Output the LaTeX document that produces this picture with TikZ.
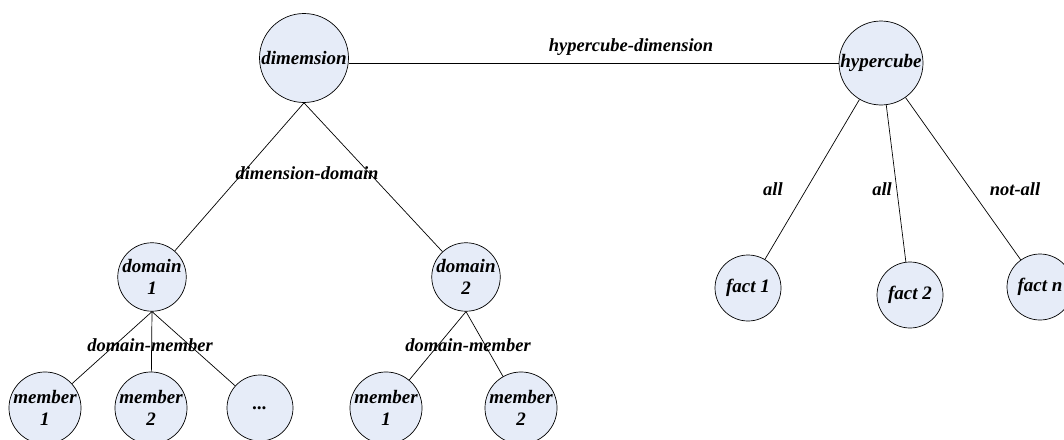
\documentclass[tikz,border=0pt]{standalone}
\usepackage{fontspec}
\setmainfont{Liberation Serif}
\begin{document}
\begin{tikzpicture}[x=1pt,y=-1pt,
  every node/.style={font=\fontsize{19}{21.7}\selectfont\bfseries\itshape},
  ent/.style={circle,draw=black,line width=0.7pt,fill=nodefill,inner sep=0pt,align=center},
  big/.style={ent,minimum size=89pt},
  small/.style={ent,minimum size=66pt},
  lbl/.style={inner sep=0pt,font=\fontsize{18.5}{21}\selectfont\bfseries\itshape},
  conn/.style={draw=black,line width=0.7pt}]
\definecolor{nodefill}{RGB}{230,236,248}
\useasboundingbox (0,0) rectangle (1064,439);
% nodes
\node[big] (dim) at (304,58) {dimemsion};
\node[ent,minimum size=84pt] (hyp) at (881,63) {hypercube};
\node[small] (d1) at (152,277) {domain\\1};
\node[small] (d2) at (466,277) {domain\\2};
\node[small] (m11) at (45,408) {member\\1};
\node[small] (m12) at (151,408) {member\\2};
\node[small] (m13) at (260,408) {...};
\node[small] (m21) at (386,408) {member\\1};
\node[small] (m22) at (521,408) {member\\2};
\node[small] (f1) at (748,288) {fact 1};
\node[small] (f2) at (910,295) {fact 2};
\node[small] (fn) at (1040,287) {fact n};
% connectors
\draw[conn] (dim.east |- hyp.west) -- (hyp.west);
\draw[conn] (dim.south) -- (d1);
\draw[conn] (dim.south) -- (d2);
\draw[conn] (d1.south) -- (m11);
\draw[conn] (d1.south) -- (m12);
\draw[conn] (d1.south) -- (m13);
\draw[conn] (d2.south) -- (m21);
\draw[conn] (d2.south) -- (m22);
\draw[conn] (hyp) -- (f1);
\draw[conn] (hyp) -- (f2);
\draw[conn] (hyp) -- (fn);
% labels
\node[lbl] (lhd) at (631,47) {hypercube-dimension};
\node[lbl] (ldd) at (307,173) {dimension-domain};
\node[lbl] (ldm1) at (150,345) {domain-member};
\node[lbl] (ldm2) at (468,345) {domain-member};
\node[lbl] (la1) at (773,189) {all};
\node[lbl] (la2) at (882,189) {all};
\node[lbl] (lna) at (1015,189) {not-all};
\end{tikzpicture}
\end{document}
